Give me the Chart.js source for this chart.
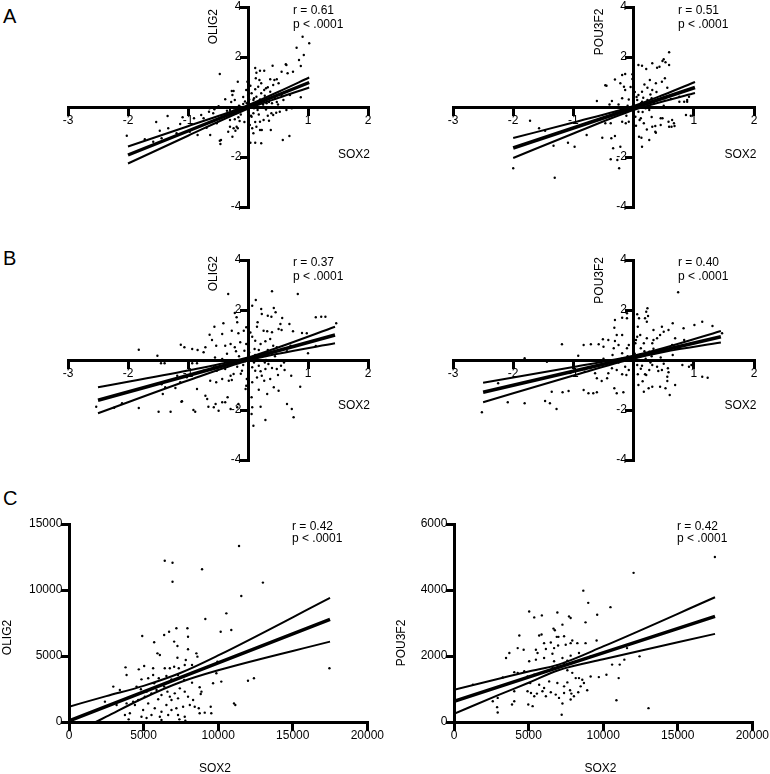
<!DOCTYPE html>
<html>
<head>
<meta charset="utf-8">
<script src="https://cdn.jsdelivr.net/npm/chart.js@4.4.1/dist/chart.umd.min.js"></script>
<style>
  body { margin: 0; background: #fff; }
  #figure { position: relative; width: 770px; height: 774px; background: #fff; }
  #figure canvas { position: absolute; }
  .panel-letter { position: absolute; left: 3px; font: 20px/20px "Liberation Sans", Arial, sans-serif; color: #000; }
</style>
</head>
<body>
<div id="figure">
  <div class="panel-letter" style="top:6px">A</div>
  <div class="panel-letter" style="top:248px">B</div>
  <div class="panel-letter" style="top:488px">C</div>
  <canvas id="chartA1" width="385" height="252" style="left:0;top:0"></canvas>
  <canvas id="chartA2" width="385" height="252" style="left:385px;top:0"></canvas>
  <canvas id="chartB1" width="385" height="222" style="left:0;top:252px"></canvas>
  <canvas id="chartB2" width="385" height="222" style="left:385px;top:252px"></canvas>
  <canvas id="chartC1" width="385" height="304" style="left:0;top:470px"></canvas>
  <canvas id="chartC2" width="385" height="304" style="left:385px;top:470px"></canvas>
</div>
<script>
// tick labels
var logTicksX = [-3, -2, -1, 1, 2];
var logTicksY = [-4, -2, 2, 4];
var rawTicksX = [0, 5000, 10000, 15000, 20000];
var olig2RawTicksY = [0, 5000, 10000, 15000];
var pou3f2RawTicksY = [0, 2000, 4000, 6000];

// panel A, OLIG2 vs SOX2  [SOX2, OLIG2]
var olig2A = [[0.91,2.81],[1.02,2.55],[0.81,2.37],[0.93,2.08],[0.85,1.88],[0.88,1.64],[0.64,1.68],[0.56,1.41],[0.41,1.65],[0.12,1.56],
  [0.2,1.45],[0.27,1.45],[0.37,1.11],[0.44,1.08],[0.51,0.95],[0.14,1.37],[0.13,1.15],[-0.01,1.01],[-0.17,1.01],[-0.47,1.32],
  [-0.27,0.64],[-0.26,0.48],[-0.03,0.68],[0,0.48],[-0.38,0.31],[-0.49,0.03],[-0.64,-0.05],[-0.78,-0.32],[-0.9,-0.45],[-1.09,-0.41],
  [-1.34,-0.36],[-1.53,-0.6],[-1.72,-1.29],[-2.02,-1.15],[-1.58,-1.39],[-1.44,-1.25],[-1.19,-1.05],[-0.97,-0.99],[-0.84,-1.12],[-0.63,-1.12],
  [-0.47,-1.35],[-0.46,-1.48],[-0.33,-0.99],[-0.3,-0.79],[-0.26,-1.19],[-0.21,-0.95],[-0.17,-0.85],[-0.22,-0.49],[-0.14,-0.56],[0.01,-0.45],
  [0.03,-0.72],[0.07,-0.85],[0.09,-1.05],[0.04,-1.43],[0.12,-1.43],[0.22,-1.45],[0.23,-0.92],[0.38,-0.92],[0.58,-1.32],[0.69,-1.16],
  [0.42,-0.32],[0.47,-0.23],[0.53,-0.19],[0.73,-0.05],[0.09,-0.25],[0.16,-0.12],[0.26,0.01],[0.31,0.15],[0.59,0.28],[0.56,0.48],
  [0.37,0.61],[0.3,0.75],[0.22,0.55],[0.14,0.41],[0.09,0.28],[0.88,0.39],[-0.02,0.15],[-0.08,0.12],[-0.13,0.01],[-0.24,-0.05],
  [-0.3,-0.12],[-0.36,-0.28],[-0.44,-0.36],[-0.58,-0.25],[-0.74,-0.45],[-1.13,-0.68],[-1.33,-0.85],[-1.47,-0.95],[-0.69,-0.83],[-0.52,-0.65],
  [0.19,1.08],[0.63,1.71],[0.75,1.41],[0.66,1.35],[0.48,1.11],[0.42,0.88],[0.33,0.79],[0.27,0.68],[0.7,0.48],[0.48,0.2],
  [0.4,0.15],[0.17,0.81],[0.12,0.71],[0.06,0.55],[-0.24,0.64],[-0.22,0.28],[-0.56,-0.09],[-0.65,-0.19],[-0.24,-0.85],[-0.19,-0.79],
  [-0.45,-1.32],[-0.3,-0.52],[-0.16,-0.41],[0.06,-0.39],[0.14,-0.79],[0.2,-0.59],[0.26,-0.52],[0.39,-0.25],[0.64,-0.12],[0.2,-0.92],
  [0.05,0.1],[0.1,-0.05],[-0.05,0.22],[0.15,0.15],[-0.1,-0.1],[0.2,0.3],[0,-0.2],[-0.15,0.05],[0.25,0.1],[0.1,0.35],
  [0.3,-0.1],[-0.2,-0.25],[0.05,-0.35],[0.35,0.2],[0.02,0.3],[0.18,-0.3],[-0.08,0.4],[0.28,0.45],[0.45,0.35],[-0.35,-0.15],
  [0.12,-0.6],[0.33,-0.35],[-0.12,-0.3],[0.5,0.1],[0.04,0.85],[-0.06,-0.6],[0.22,0.95],[0.35,-0.55],[-0.28,0.2]];
var olig2FitA = [[-2,-1.92],[1.02,0.98]];
var olig2UpperA = [[-2,-1.58],[-1,-0.77],[0,0.07],[0.5,0.6],[1.02,1.18]];
var olig2LowerA = [[-2,-2.26],[-1,-1.15],[0,-0.07],[0.5,0.36],[1.02,0.78]];

// panel A, POU3F2 vs SOX2
var pou3f2A = [[0.59,2.19],[0.48,1.84],[0.31,1.75],[0.39,1.57],[0.43,1.61],[0.14,1.65],[0.08,1.68],[0.21,1.52],[0.53,1.79],[-0.02,1.31],
  [-0.02,1.12],[-0.19,1.28],[-0.31,1.1],[-0.45,0.85],[-0.22,0.95],[-0.16,0.81],[-0.14,0.68],[-0.19,0.35],[-0.36,0.24],[-0.61,0.24],
  [0.27,1.08],[0.37,0.95],[0.47,1.01],[0.52,1.15],[0.56,0.77],[0.23,0.77],[0.31,0.68],[0.14,0.61],[0.08,0.48],[0.16,0.37],
  [0.06,0.28],[0.12,0.15],[0.23,0.28],[0.34,0.15],[0.52,0.35],[0.62,0.32],[0.76,0.21],[0.84,0.21],[0.89,0.28],[0.87,-0.32],
  [0.95,-0.35],[0.64,-0.52],[0.59,-0.79],[0.67,-0.65],[0.48,-0.45],[0.45,-0.72],[0.31,-0.79],[0.37,-1.03],[0.26,-1.32],[0.14,-1.59],
  [0.09,-1.19],[0.17,-0.65],[0.1,-0.52],[0.03,-0.39],[-0.08,-0.59],[-0.13,-0.65],[-0.19,-0.59],[-0.38,-0.65],[-0.52,-1.23],[-0.37,-1.25],
  [-0.34,-1.65],[-0.22,-1.59],[-0.27,-2.12],[-0.24,-2.45],[-0.38,-2.09],[-2,-2.45],[-1.31,-2.83],[-1.72,-0.55],[-1.57,-0.85],[-1.47,-0.95],
  [-1.33,-1.55],[-1.09,-1.43],[-0.98,-1.59],[-0.78,-1.12],[-0.47,-0.65],[-0.31,-1.16],[0.13,-1.23],[0.36,-0.99],[0.45,-0.45],[0.58,-0.59],
  [0.63,-0.79],[0.68,-0.76],[0.36,-0.76],[-0.47,0.87],[-0.14,1.32],[0.5,1.91],[0.59,1.68],[0.89,0.21],[0.76,0.41],[0.92,0.41],
  [0.14,0.21],[0.08,-0.19],[0.26,-0.12],[0.05,0.05],[-0.05,-0.1],[0.1,0.1],[-0.1,0.05],[0.2,-0.05],[0,-0.25],[0.15,-0.2],
  [-0.2,-0.15],[0.25,0.05],[-0.25,0.1],[0.3,0.35],[0.05,0.4],[0.02,0.6],[0.18,0.9],[-0.08,0.3],[0.28,0.5],[0.4,0.3],
  [-0.3,-0.2],[0.12,-0.45],[0.3,-0.4],[-0.12,-0.35],[0.5,0.05],[0.04,-0.75],[-0.05,0.8],[0.22,-0.9],[0.38,0.6],[-0.4,0.1]];
var pou3f2FitA = [[-2,-1.64],[1.02,0.78]];
var pou3f2UpperA = [[-2,-1.24],[-1,-0.62],[0,0.04],[0.5,0.49],[1.02,1.0]];
var pou3f2LowerA = [[-2,-2.04],[-1,-1.06],[0,-0.12],[0.5,0.23],[1.02,0.56]];

// panel B, OLIG2 vs SOX2
var olig2B = [[-0.33,2.64],[0.4,2.75],[0.83,2.64],[0.13,2.4],[0.07,2.17],[0.22,2.04],[0.23,1.84],[0.43,2.08],[0.46,1.91],[0.33,1.77],
  [0.39,1.73],[0.57,1.68],[0.54,1.44],[0.69,1.44],[0.56,1.2],[0.51,1.24],[0.75,1.15],[0.9,1.08],[0.98,1.07],[1.13,1.71],
  [1.22,1.73],[1.29,1.73],[1.47,1.47],[-0.22,1.88],[-0.19,1.71],[-0.18,1.51],[-0.41,1.47],[-0.27,1.17],[-0.16,1.07],[-0.07,1.17],
  [-0.03,1.31],[-0.56,1.33],[-0.64,1.01],[-0.43,1.04],[-0.6,0.8],[-0.53,0.57],[-0.38,0.57],[-0.29,0.64],[-0.22,0.51],[-0.13,0.71],
  [-0.03,0.64],[-0.06,0.37],[-0.71,0.51],[-0.74,0.31],[-0.84,0.4],[-0.93,0.44],[-1.12,0.61],[-1.06,0.51],[-1.82,0.41],[-1.51,0.17],
  [-1.45,-0.13],[-1.39,-0.13],[-0.93,-0.13],[-0.85,-0.13],[-0.43,0.04],[0.15,1.33],[0.16,1.51],[0.26,1.17],[0.32,1.15],[0.4,1.11],
  [0.37,0.84],[0.29,0.75],[0.21,0.64],[0.12,0.77],[0.11,0.44],[0.07,0.93],[0.42,0.57],[0.48,0.51],[0.57,0.44],[0.71,0.57],
  [0.65,0.35],[1.0,0.27],[1.13,0.56],[0.07,-0.29],[0.18,-0.23],[0.12,-0.43],[0.21,-0.45],[0.23,-0.63],[0.34,-0.16],[0.29,-0.36],
  [0.4,-0.32],[0.48,-0.36],[0.55,-0.23],[0.61,-0.4],[0.72,-0.63],[0.87,-1.07],[0.27,-0.83],[0.37,-0.76],[0.43,-1.09],[0.51,-1.23],
  [0.32,-1.36],[0.18,-1.19],[0.07,-0.89],[0.06,-1.49],[0.07,-1.89],[0.06,-2.16],[0.09,-2.63],[0.29,-2.4],[0.21,-1.87],[0.65,-1.76],
  [0.73,-1.96],[0.76,-2.29],[-0.04,-1.16],[-0.03,-1.03],[-0.02,-0.76],[-0.1,-0.43],[-0.18,-0.27],[-0.24,-0.56],[-0.29,-0.63],[-0.32,-0.83],
  [-0.27,-0.8],[-0.38,-0.36],[-0.43,-0.76],[-0.53,-0.89],[-0.63,-0.83],[-0.71,-1.43],[-0.68,-1.56],[-0.85,-1.16],[-0.54,-1.76],[-0.57,-1.89],
  [-0.66,-1.87],[-0.43,-1.69],[-0.38,-1.69],[-0.34,-1.49],[-0.29,-1.96],[-0.16,-1.76],[-0.18,-1.89],[-0.49,-2.03],[-0.88,-2.07],[-1.1,-1.65],
  [-1.29,-2.07],[-1.49,-2.07],[-1.82,-1.92],[-2.1,-1.73],[-2.53,-1.87],[-1.42,-1.36],[-1.21,-1.12],[-1.38,-1.09],[-1.13,-0.89],[-1.02,-0.69],
  [-1.18,-0.63],[-0.74,-0.43],[-0.57,-0.29],[-0.52,-0.43],[-2.23,-1.91],[-1.11,-1.67],[-0.91,-2.0],[-1.44,-0.97],[0.05,0.1],[-0.05,-0.05],
  [0.15,0.05],[-0.15,0.15],[0.25,0.2],[0.1,-0.1],[-0.25,-0.1],[0.3,0],[0.02,0.3],[0.18,0.4],[-0.08,-0.2],[0.28,-0.1],
  [0.45,0.15],[-0.35,0.25],[0.12,0.2],[0.33,0.4],[-0.12,-0.55],[0.5,-0.6],[0.04,1.1],[-0.2,0.35],[0.6,-0.1],[-0.55,0.1],
  [0.15,-0.7]];
var olig2FitB = [[-2.5,-1.61],[1.45,1.0]];
var olig2UpperB = [[-2.5,-1.09],[-1,-0.42],[0,0.1],[0.5,0.5],[1.45,1.33]];
var olig2LowerB = [[-2.5,-2.13],[-1,-0.82],[0,-0.02],[0.5,0.25],[1.45,0.67]];

// panel B, POU3F2 vs SOX2
var pou3f2B = [[0.74,2.71],[0.23,2.07],[0.21,1.93],[0.24,1.76],[0.19,1.67],[0.22,1.53],[0.09,1.67],[0.06,1.83],[-0.11,1.87],[-0.11,1.67],
  [-0.19,1.69],[-0.31,1.6],[-0.32,1.29],[-0.28,1.0],[-0.19,1.0],[-0.31,0.76],[-0.25,0.6],[-0.33,0.47],[-0.42,0.8],[-0.5,0.53],
  [-0.51,0.83],[-0.58,0.63],[-0.71,0.63],[-0.83,0.6],[-1.19,0.63],[-0.92,0.17],[-0.19,0.27],[-0.11,0.47],[0.07,1.33],[0.11,1.0],
  [0.06,0.93],[0.03,0.67],[0,0.4],[0.12,0.47],[0.17,0.67],[0.22,0.87],[0.31,0.67],[0.33,0.8],[0.39,0.87],[0.44,1.0],
  [0.47,1.33],[0.33,1.2],[0.5,1.13],[0.58,1.2],[0.65,1.47],[0.69,0.87],[0.83,1.27],[1.01,1.4],[1.14,1.53],[1.31,1.36],
  [1.47,1.07],[0.84,0.8],[0.74,0.47],[0.64,0.6],[0.53,0.47],[0.44,0.4],[0.26,0.33],[0.06,-0.2],[0.14,-0.23],[0.19,-0.57],
  [0.21,-0.6],[0.26,-0.4],[0.31,-0.2],[0.39,-0.27],[0.41,-0.44],[0.47,-0.4],[0.57,-0.33],[0.58,-0.49],[0.56,-0.67],[0.56,-0.84],
  [0.44,-1.07],[0.53,-1.13],[0.6,-1.4],[0.31,-1.07],[0.25,-1.13],[0.17,-1.27],[0.08,-1.0],[0.07,-0.57],[-0.08,-0.4],[-0.14,-0.27],
  [-0.19,-0.57],[-0.28,-0.4],[-0.36,-0.33],[-0.42,-0.53],[-0.44,-0.73],[-0.53,-0.84],[-0.61,-0.73],[-0.64,-0.53],[-0.72,-0.33],[-0.81,-0.47],
  [-0.32,-1.13],[-0.28,-1.33],[-0.17,-1.29],[-0.61,-1.29],[-0.67,-1.33],[-0.75,-1.33],[-0.83,-1.2],[-1.08,-1.24],[-1.18,-1.29],[-1.36,-1.27],
  [-1.47,-1.64],[-1.39,-1.73],[-1.28,-1.96],[-1.81,-1.73],[-2.09,-1.69],[-2.52,-2.09],[-2.25,-0.93],[-1.44,-0.07],[0.81,-0.2],[0.92,-0.27],
  [0.96,-0.2],[1.14,-0.67],[1.23,-0.71],[0.69,-1.0],[-1.81,0.07],[0.05,0.1],[-0.05,0],[0.1,0.2],[-0.1,0.15],[0.2,0.05],
  [-0.2,0.05],[0,-0.1],[0.3,0.15],[0.02,0.25],[0.18,0.35],[-0.08,0.6],[0.28,-0.1],[0.45,0.1],[-0.35,0.2],[0.12,-0.35],
  [0.33,0.45],[-0.12,-0.6],[0.5,-0.15],[0.04,0.8],[-0.25,-0.1],[0.65,0.2],[-0.5,0.05],[0.15,-0.85]];
var pou3f2FitB = [[-2.5,-1.29],[1.45,0.93]];
var pou3f2UpperB = [[-2.5,-0.91],[-1,-0.28],[0,0.17],[0.5,0.48],[1.45,1.16]];
var pou3f2LowerB = [[-2.5,-1.69],[-1,-0.62],[0,0.06],[0.5,0.32],[1.45,0.7]];

// panel C, raw counts, OLIG2 vs SOX2
var olig2C = [[11400,13330],[6420,12220],[6940,12070],[8920,11570],[6940,10630],[13000,10560],[11550,9550],[10550,8230],[9140,7800],[10170,6840],
  [10880,6970],[7200,7100],[6710,6840],[7940,7100],[7980,6460],[4910,6520],[6380,6590],[5710,6040],[7050,6090],[5930,5200],
  [6090,5080],[7270,5760],[7980,5510],[7270,4870],[7830,4700],[8540,5200],[8610,4950],[9950,4570],[3790,4140],[3860,3560],
  [4680,3990],[5040,4240],[5640,4070],[5640,3560],[6420,4070],[6760,4070],[7050,4190],[7360,4070],[7760,4320],[8250,4320],
  [4860,3230],[5310,3310],[5710,2930],[6020,3310],[6530,3490],[6870,3230],[7310,3560],[7720,3180],[8250,2980],[8760,2630],
  [8880,2300],[8830,2120],[9880,3690],[9660,2930],[10210,3060],[12000,3130],[12400,3310],[11060,1410],[11150,1290],[2970,2680],
  [2410,1540],[3190,1290],[3860,1410],[4300,1540],[4420,1290],[4640,1670],[5080,1920],[5530,2170],[5870,2420],[6200,2050],
  [6380,2680],[6600,2300],[6760,1920],[6870,1670],[7090,2170],[7430,2550],[7310,1790],[7760,2300],[7980,1920],[8320,1670],
  [8100,1290],[7650,1160],[7200,1040],[6870,910],[6530,1290],[6200,780],[5750,1040],[5310,1410],[4970,910],[4860,400],
  [4080,660],[3750,530],[5530,530],[6090,400],[6650,530],[7310,530],[7760,400],[8760,660],[9100,710],[9540,660],
  [9500,1160],[8700,1040],[8430,1160],[5980,1720],[5200,2300],[4820,2480],[4530,2680],[3410,2420],[17460,4070],[5200,300],
  [4000,200],[7800,100],[6200,150],[7400,200]];
var olig2FitC = [[0,80],[17500,7780]];
var olig2UpperC = [[0,1160],[2500,1960],[5000,2740],[7500,3730],[10000,5040],[17500,9400]];
var olig2LowerC = [[1800,0],[2500,400],[5000,1820],[7500,3030],[10000,3920],[17500,6090]];

// panel C, raw counts, POU3F2 vs SOX2
var pou3f2C = [[17490,5000],[12040,4520],[8670,3980],[9000,3610],[10490,3480],[9600,3250],[8820,3020],[5040,3350],[5380,3170],[5890,3230],
  [6930,3320],[7710,3200],[7820,3150],[6670,2830],[6760,2780],[7270,2950],[6890,2580],[7000,2580],[7380,2600],[4380,2620],
  [5870,2650],[5710,2620],[7930,2470],[7820,2390],[8270,2390],[7490,2340],[8820,2390],[9560,2470],[6040,2390],[6490,2410],
  [6710,2240],[6980,2320],[4270,2240],[4670,2190],[5490,2190],[5600,2090],[6160,2210],[6600,2070],[7270,1940],[7820,2010],
  [8380,2090],[3710,2090],[3490,1940],[5040,1840],[5490,1890],[6040,1940],[6710,1840],[7380,1790],[7600,1860],[9160,1990],
  [11600,2240],[12440,1990],[10600,1740],[11110,1740],[11420,1890],[4040,1510],[4270,1490],[4710,1540],[4930,1380],[5380,1430],
  [5820,1490],[6600,1640],[6930,1710],[7160,1690],[7600,1570],[7930,1490],[8160,1330],[8380,1330],[8600,1280],[8710,1180],
  [9160,1380],[9710,1360],[10220,1430],[11040,1330],[3270,1350],[1270,1130],[4040,930],[4930,930],[5160,880],[5380,780],
  [5560,860],[5930,930],[6160,780],[6490,900],[6820,830],[7040,730],[7380,880],[7780,960],[7870,860],[8040,780],
  [8330,900],[8490,1080],[8930,960],[6380,1230],[6930,1180],[7600,1200],[7380,1080],[6040,1030],[5710,1130],[5110,1180],
  [10890,660],[13040,420],[2930,730],[3890,530],[4980,530],[5270,480],[2890,450],[2930,290],[4040,630],[7220,220],
  [7270,560],[7820,680],[2600,630]];
var pou3f2FitC = [[0,624],[17500,3200]];
var pou3f2UpperC = [[0,980],[3000,1310],[5000,1530],[7000,1740],[10000,2290],[17500,3780]];
var pou3f2LowerC = [[0,250],[3000,820],[5000,1190],[7000,1570],[10000,1900],[17500,2670]];

Chart.defaults.font.family = '"Liberation Sans", Arial, sans-serif';
Chart.defaults.font.size = 12;
Chart.defaults.color = '#000';

function toXY(pairs) {
    return pairs.map(function (p) { return {x: p[0], y: p[1]}; });
}

// labels drawn on top of each panel (axis names, r / p)
function textLayer(items) {
    return {
        id: 'panelText',
        afterDraw: function (chart) {
            var ctx = chart.ctx;
            items.forEach(function (t) {
                ctx.save();
                ctx.fillStyle = '#000';
                ctx.font = '12px "Liberation Sans", Arial, sans-serif';
                ctx.textAlign = t.align || 'left';
                ctx.textBaseline = t.baseline || 'alphabetic';
                ctx.translate(t.x, t.y);
                if (t.rotate) ctx.rotate(-Math.PI / 2);
                ctx.fillText(t.text, 0, 0);
                ctx.restore();
            });
        }
    };
}

// a y axis placed at x = 0 puts its labels flush on the line, so they get two trailing spaces
function axis(min, max, ticks, pos, vertical) {
    return {
        type: 'linear',
        position: pos,
        min: min,
        max: max,
        afterBuildTicks: function (scale) {
            scale.ticks = ticks.map(function (v) { return {value: v}; });
        },
        grid: {drawOnChartArea: false, drawTicks: true, tickLength: 7, tickWidth: 3, tickColor: '#000', lineWidth: 3, color: '#000'},
        border: {display: true, width: 3, color: '#000'},
        ticks: {
            padding: 1, autoSkip: false, maxRotation: 0, color: '#000',
            font: {size: 12, lineHeight: 1},
            callback: function (v) { return vertical ? v + '  ' : String(v); }
        }
    };
}

function line(pairs, width) {
    return {
        data: toXY(pairs), showLine: true, borderColor: '#000', borderWidth: width,
        pointRadius: 0, fill: false, cubicInterpolationMode: 'monotone'
    };
}

function scatterPanel(id, p) {
    new Chart(id, {
        type: 'scatter',
        data: {
            datasets: [
                line(p.fit, 3.5), line(p.upper, 2), line(p.lower, 2),
                {data: toXY(p.points), pointRadius: 1.2, pointBackgroundColor: '#000', pointBorderWidth: 0}
            ]
        },
        options: {
            responsive: false,
            animation: false,
            devicePixelRatio: 1,
            events: [],
            layout: {padding: p.padding},
            plugins: {legend: {display: false}, tooltip: {enabled: false}},
            scales: {
                x: axis(p.x[0], p.x[1], p.xTicks, {y: p.y[2]}, false),
                y: axis(p.y[0], p.y[1], p.yTicks, {x: p.x[2]}, true)
            }
        },
        plugins: [textLayer(p.texts)]
    });
}

scatterPanel('chartA1', {
    points: olig2A, fit: olig2FitA, upper: olig2UpperA, lower: olig2LowerA,
    x: [-3, 2, 0], y: [-4, 4, 0], xTicks: logTicksX, yTicks: logTicksY,
    padding: {left: 68, right: 17, top: 7, bottom: 45},
    texts: [
        {text: 'OLIG2', x: 214, y: 9, rotate: true, align: 'right', baseline: 'middle'},
        {text: 'SOX2', x: 370, y: 157.5, align: 'right'},
        {text: 'r = 0.61', x: 293, y: 14},
        {text: 'p < .0001', x: 293, y: 28}
    ]
});

scatterPanel('chartA2', {
    points: pou3f2A, fit: pou3f2FitA, upper: pou3f2UpperA, lower: pou3f2LowerA,
    x: [-3, 2, 0], y: [-4, 4, 0], xTicks: logTicksX, yTicks: logTicksY,
    padding: {left: 68, right: 16, top: 7, bottom: 45},
    texts: [
        {text: 'POU3F2', x: 214.5, y: 8.5, rotate: true, align: 'right', baseline: 'middle'},
        {text: 'SOX2', x: 371.5, y: 157.5, align: 'right'},
        {text: 'r = 0.51', x: 293, y: 14},
        {text: 'p < .0001', x: 293, y: 28}
    ]
});

scatterPanel('chartB1', {
    points: olig2B, fit: olig2FitB, upper: olig2UpperB, lower: olig2LowerB,
    x: [-3, 2, 0], y: [-4, 4, 0], xTicks: logTicksX, yTicks: logTicksY,
    padding: {left: 68, right: 17, top: 8, bottom: 14},
    texts: [
        {text: 'OLIG2', x: 214, y: 4, rotate: true, align: 'right', baseline: 'middle'},
        {text: 'SOX2', x: 370, y: 157, align: 'right'},
        {text: 'r = 0.37', x: 293, y: 14},
        {text: 'p < .0001', x: 293, y: 28}
    ]
});

scatterPanel('chartB2', {
    points: pou3f2B, fit: pou3f2FitB, upper: pou3f2UpperB, lower: pou3f2LowerB,
    x: [-3, 2, 0], y: [-4, 4, 0], xTicks: logTicksX, yTicks: logTicksY,
    padding: {left: 68, right: 16, top: 8, bottom: 14},
    texts: [
        {text: 'POU3F2', x: 214.5, y: 5, rotate: true, align: 'right', baseline: 'middle'},
        {text: 'SOX2', x: 371.5, y: 156.5, align: 'right'},
        {text: 'r = 0.40', x: 293, y: 14},
        {text: 'p < .0001', x: 293, y: 28}
    ]
});

scatterPanel('chartC1', {
    points: olig2C, fit: olig2FitC, upper: olig2UpperC, lower: olig2LowerC,
    x: [0, 20000, 0], y: [0, 15000, 0], xTicks: rawTicksX, yTicks: olig2RawTicksY,
    padding: {left: 69, right: 17, top: 54, bottom: 52},
    texts: [
        {text: 'OLIG2', x: 7.5, y: 167.5, rotate: true, align: 'center', baseline: 'middle'},
        {text: 'SOX2', x: 215, y: 302, align: 'center'},
        {text: 'r = 0.42', x: 292, y: 60},
        {text: 'p < .0001', x: 292, y: 72}
    ]
});

scatterPanel('chartC2', {
    points: pou3f2C, fit: pou3f2FitC, upper: pou3f2UpperC, lower: pou3f2LowerC,
    x: [0, 20000, 0], y: [0, 6000, 0], xTicks: rawTicksX, yTicks: pou3f2RawTicksY,
    padding: {left: 69, right: 16, top: 54, bottom: 52},
    texts: [
        {text: 'POU3F2', x: 17, y: 173, rotate: true, align: 'center', baseline: 'middle'},
        {text: 'SOX2', x: 215.5, y: 302, align: 'center'},
        {text: 'r = 0.42', x: 292, y: 60},
        {text: 'p < .0001', x: 292, y: 72}
    ]
});
</script>
</body>
</html>
